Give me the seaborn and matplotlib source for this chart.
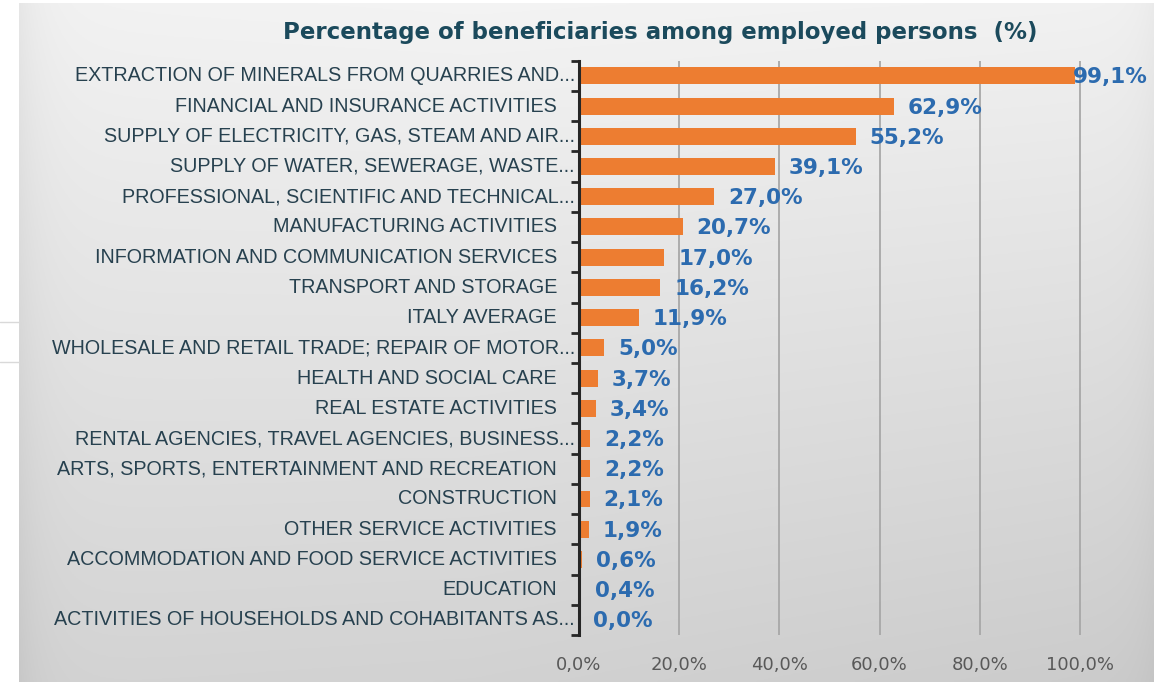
import numpy as np
import pandas as pd
import matplotlib
matplotlib.use("Agg")
import matplotlib.pyplot as plt
import seaborn as sns
from matplotlib import font_manager as fm
from matplotlib.lines import Line2D
from matplotlib.transforms import blended_transform_factory

# ---- data -------------------------------------------------------------
sectors = [
    "EXTRACTION OF MINERALS FROM QUARRIES AND...",
    "FINANCIAL AND INSURANCE ACTIVITIES",
    "SUPPLY OF ELECTRICITY, GAS, STEAM AND AIR...",
    "SUPPLY OF WATER, SEWERAGE, WASTE...",
    "PROFESSIONAL, SCIENTIFIC AND TECHNICAL...",
    "MANUFACTURING ACTIVITIES",
    "INFORMATION AND COMMUNICATION SERVICES",
    "TRANSPORT AND STORAGE",
    "ITALY AVERAGE",
    "WHOLESALE AND RETAIL TRADE; REPAIR OF MOTOR...",
    "HEALTH AND SOCIAL CARE",
    "REAL ESTATE ACTIVITIES",
    "RENTAL AGENCIES, TRAVEL AGENCIES, BUSINESS...",
    "ARTS, SPORTS, ENTERTAINMENT AND RECREATION",
    "CONSTRUCTION",
    "OTHER SERVICE ACTIVITIES",
    "ACCOMMODATION AND FOOD SERVICE ACTIVITIES",
    "EDUCATION",
    "ACTIVITIES OF HOUSEHOLDS AND COHABITANTS AS...",
]
shares = [99.1, 62.9, 55.2, 39.1, 27.0, 20.7, 17.0, 16.2, 11.9, 5.0,
          3.7, 3.4, 2.2, 2.2, 2.1, 1.9, 0.6, 0.4, 0.0]
x_ticks = [0, 20, 40, 60, 80, 100]
x_tick_labels = ["0,0%", "20,0%", "40,0%", "60,0%", "80,0%", "100,0%"]
title = "Percentage of beneficiaries among employed persons  (%)"


def pick_font(candidates):
    for name in candidates:
        try:
            fm.findfont(fm.FontProperties(family=name), fallback_to_default=False)
            return name
        except Exception:
            continue
    return "DejaVu Sans"


sns.set_theme(style="white")
narrow = pick_font(["Liberation Sans Narrow", "DejaVu Sans Condensed", "Liberation Sans"])
plt.rcParams["font.family"] = ["DejaVu Sans"]

ORANGE = "#ED7D31"
VALUE_BLUE = "#2C6BAF"
LABEL_INK = "#27414F"
TITLE_INK = "#1B4A5C"
AXIS_GREY = "#595959"

W, H = 1159, 682
fig = plt.figure(figsize=(W / 100, H / 100), dpi=100)
fig.patch.set_facecolor("white")

# faint lines left of the panel
for yp in (322, 362):
    fig.add_artist(Line2D([0, 19 / W], [1 - yp / H] * 2, color="#d9d9d9", lw=1))

# gradient panel behind the chart
bg = fig.add_axes([19 / W, 0, (1154 - 19) / W, (682 - 3) / H])
yy, xx = np.mgrid[0:1:300j, 0:1:600j]
shade = (0.955 - 0.12 * yy - 0.03 * xx * yy - 0.015 * np.abs(xx - 0.4)
         - 0.045 * np.exp(-xx / 0.02) - 0.025 * np.exp(-(1 - xx) / 0.015))
shade = np.clip(shade, 0, 1)
bg.imshow(np.dstack([shade] * 3), aspect="auto", extent=[0, 1, 0, 1], origin="upper")
bg.set_axis_off()

# main bar axes
ax = fig.add_axes([579 / W, 47 / H, 551 / W, (635 - 60.7) / H])
ax.patch.set_alpha(0)
df = pd.DataFrame({"sector": sectors, "share": shares})
sns.barplot(data=df, x="share", y="sector", orient="h", color=ORANGE,
            saturation=1, width=0.56, linewidth=0, ax=ax)
ax.set_xlim(0, 110)
ax.set_ylim(len(sectors) - 0.5, -0.5)
ax.set_xlabel("")
ax.set_ylabel("")

ax.set_xticks(x_ticks)
ax.set_xticklabels(x_tick_labels, color=AXIS_GREY, fontsize=13)
ax.tick_params(axis="x", length=0, pad=15)
ax.grid(axis="x", color="#a8a8a8", lw=1.3)
ax.grid(axis="y", visible=False)
ax.set_axisbelow(True)

for side in ("top", "right", "bottom"):
    ax.spines[side].set_visible(False)
ax.spines["left"].set_color("#262626")
ax.spines["left"].set_linewidth(2.2)

ax.set_yticks(range(len(sectors)))
ax.set_yticklabels([])
ax.tick_params(axis="y", which="major", length=0)
ax.set_yticks(np.arange(-0.5, len(sectors), 1.0), minor=True)
ax.tick_params(axis="y", which="minor", length=6, width=2, color="#262626",
               direction="out", left=True)

# category labels
tr = blended_transform_factory(ax.transAxes, ax.transData)
for i, name in enumerate(sectors):
    off = -4 if name.endswith("...") else -22
    ax.text(off / 551, i, name, transform=tr, ha="right", va="center",
            fontsize=14.2, family=narrow, color=LABEL_INK)

# value labels
for i, v in enumerate(shares):
    txt = f"{v:.1f}".replace(".", ",") + "%"
    ax.text(min(v + 2.8, 98.6), i + 0.05, txt, ha="left", va="center",
            fontsize=15.5, fontweight="bold", color=VALUE_BLUE)

fig.text(660 / W, 1 - 32 / H, title, ha="center", va="center",
         fontsize=16.5, fontweight="bold", color=TITLE_INK)

fig.savefig("out.png", dpi=100)
